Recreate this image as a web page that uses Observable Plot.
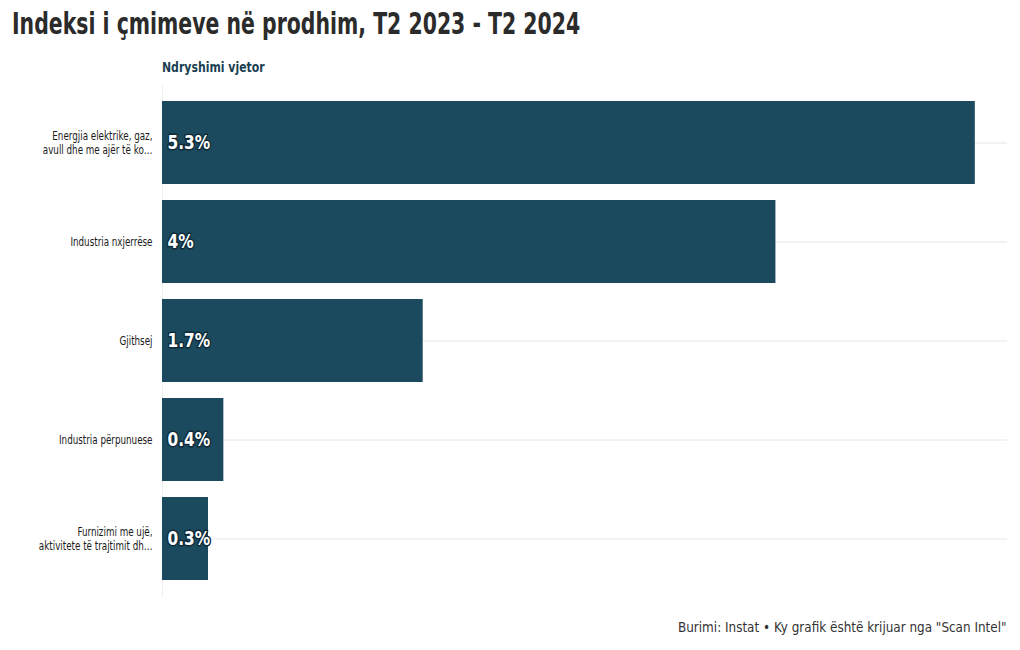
<!DOCTYPE html>
<html><head><meta charset="utf-8">
<script src="https://cdn.jsdelivr.net/npm/d3@7"></script>
<script src="https://cdn.jsdelivr.net/npm/@observablehq/plot@0.6"></script>
<style>
body{margin:0;background:#fff;font-family:"DejaVu Sans Condensed",sans-serif;}
#wrap{position:relative;width:1020px;height:650px;}
#title{position:absolute;left:12px;top:5px;font-size:31px;font-weight:bold;color:#2b2b2b;white-space:nowrap;transform-origin:left center;}
#sub{position:absolute;left:162px;top:59px;font-size:14px;font-weight:bold;color:#1a3f52;white-space:nowrap;transform-origin:left center;}
#chart{position:absolute;left:0;top:80px;}
#cap{position:absolute;right:13px;top:619px;font-size:14px;color:#333;white-space:nowrap;transform-origin:right center;}
</style></head>
<body><div id="wrap">
<div id="title">Indeksi i çmimeve në prodhim, T2 2023 - T2 2024</div>
<div id="sub">Ndryshimi vjetor</div>
<div id="chart"></div>
<div id="cap">Burimi: Instat • Ky grafik është krijuar nga "Scan Intel"</div>
</div>
<script>
const categories = [
  "Energjia elektrike, gaz,\navull dhe me ajër të ko…",
  "Industria nxjerrëse",
  "Gjithsej",
  "Industria përpunuese",
  "Furnizimi me ujë,\naktivitete të trajtimit dh…"
];
const values = [5.3, 4, 1.7, 0.4, 0.3];
const valueLabels = ["5.3%", "4%", "1.7%", "0.4%", "0.3%"];
const data = categories.map((c, i) => ({cat: c, v: values[i], lab: valueLabels[i]}));
const font = '"DejaVu Sans Condensed",sans-serif';
const chart = Plot.plot({
  width: 1020, height: 524,
  marginLeft: 162, marginRight: 13, marginTop: 5.5, marginBottom: 7.5,
  style: {fontFamily: font, background: "transparent"},
  x: {domain: [0, 5.51], axis: null},
  y: {domain: categories, padding: 0.157, label: null},
  marks: [
    Plot.gridY({stroke: "#e6e6e6", strokeOpacity: 1}),
    Plot.ruleX([0], {stroke: "#eeeeee"}),
    Plot.barX(data, {x: "v", y: "cat", fill: "#1b4a5e"}),
    Plot.axisY({tickSize: 0, tickPadding: 10, fontSize: 12.5, lineHeight: 1.12, fill: "#1a1a1a", label: null}),
    Plot.text(data, {x: 0, y: "cat", text: "lab", textAnchor: "start", dx: 5, fill: "white", stroke: "#0e2a38", strokeWidth: 3, fontSize: 19, fontWeight: "bold"})
  ]
});
document.getElementById("chart").appendChild(chart);
// condensed look: horizontal squeeze of text
function squeeze(sel, k) {
  chart.querySelectorAll(sel).forEach(t => {
    const tr = t.getAttribute("transform") || "";
    t.setAttribute("transform", tr + ` scale(${k},1)`);
  });
}
squeeze('g[aria-label="y-axis tick label"] text', 0.78);
squeeze('g[aria-label="text"] text', 0.9);
function fit(id, w) {
  const el = document.getElementById(id);
  el.style.transform = `scaleX(${w / el.offsetWidth})`;
}
fit("title", 568);
fit("sub", 103);
fit("cap", 329);
</script>
</body></html>
